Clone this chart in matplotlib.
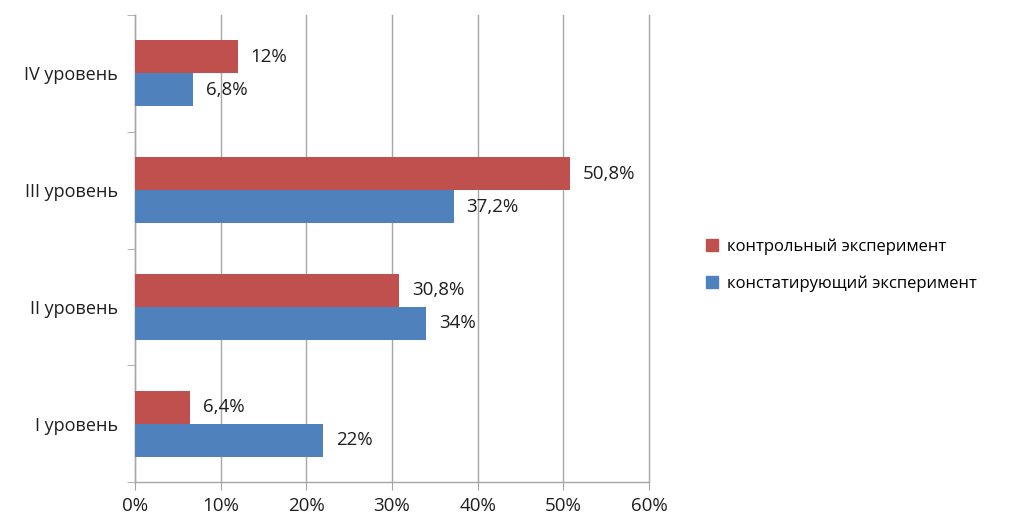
import matplotlib
matplotlib.use("Agg")
import matplotlib.pyplot as plt
import numpy as np
from matplotlib.patches import Patch

plt.rcParams["font.family"] = ["Open Sans", "DejaVu Sans"]

categories = ["I уровень", "II уровень", "III уровень", "IV уровень"]
control = [6.4, 30.8, 50.8, 12.0]       # контрольный эксперимент
ascertaining = [22.0, 34.0, 37.2, 6.8]  # констатирующий эксперимент
series_names = ["контрольный эксперимент", "констатирующий эксперимент"]
xticks = [0, 10, 20, 30, 40, 50, 60]

RED = "#C0504D"
BLUE = "#4F81BD"
GRID = "#A6A6A6"
TEXT = "#1f1f1f"


def fmt(v):
    s = f"{v:g}".replace(".", ",")
    return s + "%"


fig = plt.figure(figsize=(10.16, 5.19), dpi=100)
ax = fig.add_axes([0.1329, 0.0713, 0.6388 - 0.1329, 0.971 - 0.0713])

y = np.arange(len(categories))
h = 0.283
ax.barh(y + h / 2, control, height=h, color=RED, zorder=3)
ax.barh(y - h / 2, ascertaining, height=h, color=BLUE, zorder=3)

for yi, v in zip(y + h / 2, control):
    ax.text(v + 1.5, yi, fmt(v), va="center", ha="left", fontsize=13.5, color=TEXT)
for yi, v in zip(y - h / 2, ascertaining):
    ax.text(v + 1.5, yi, fmt(v), va="center", ha="left", fontsize=13.5, color=TEXT)

ax.set_xlim(0, 60)
ax.set_ylim(-0.5, len(categories) - 0.5)
ax.set_xticks(xticks)
ax.set_xticklabels([f"{t}%" for t in xticks], fontsize=13.5, color=TEXT)
ax.set_yticks(y)
ax.set_yticklabels(categories, fontsize=13, color=TEXT)
ax.set_yticks(np.arange(-0.5, len(categories)), minor=True)
ax.tick_params(axis="y", which="major", length=0, pad=12)
ax.tick_params(axis="y", which="minor", length=6, color=GRID, direction="out")
ax.tick_params(axis="x", length=6, color=GRID, direction="out", pad=5)

ax.grid(axis="x", color=GRID, linewidth=1.0, zorder=0)
for gl in ax.get_xgridlines():
    gl.set_clip_on(False)
for s in ["top", "right"]:
    ax.spines[s].set_visible(False)
for s in ["left", "bottom"]:
    ax.spines[s].set_color(GRID)
    ax.spines[s].set_linewidth(1.0)

handles = [Patch(color=RED), Patch(color=BLUE)]
fig.legend(handles, series_names, loc="center left", bbox_to_anchor=(0.68, 0.489),
           frameon=False, fontsize=12, handlelength=0.75, handleheight=0.75,
           handletextpad=0.5, labelspacing=1.25)

fig.savefig("out.png", dpi=100)
